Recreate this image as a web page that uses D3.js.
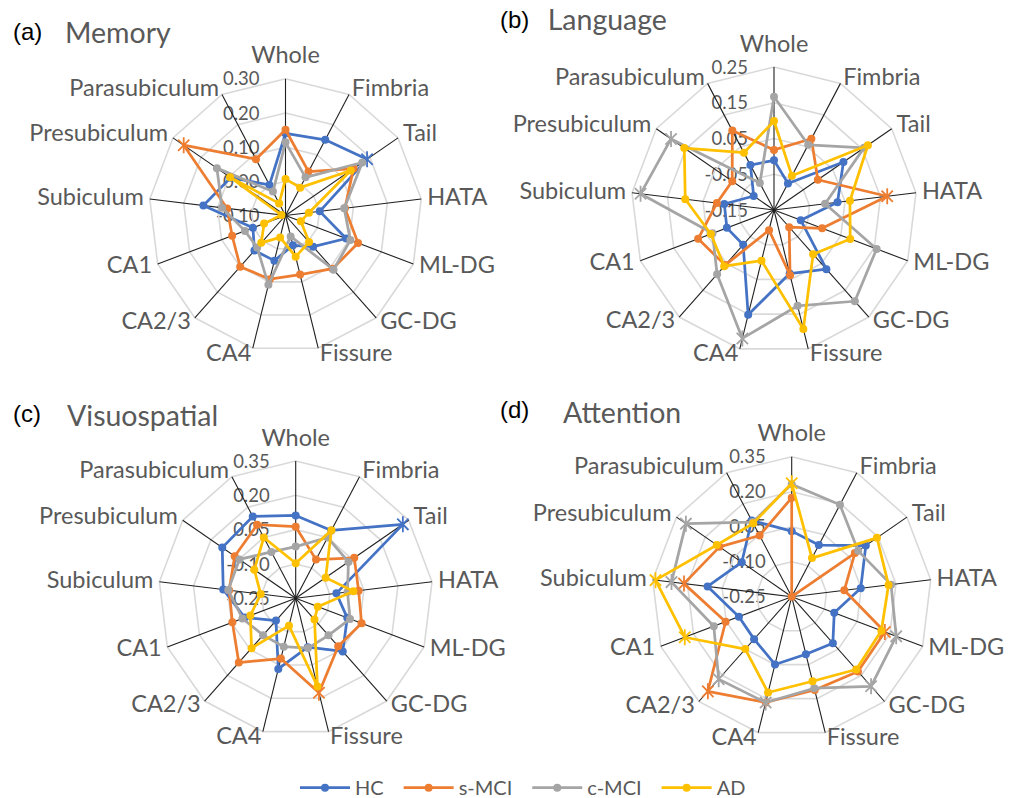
<!DOCTYPE html>
<html>
<head>
<meta charset="utf-8">
<script src="https://cdn.jsdelivr.net/npm/d3@7"></script>
<style>
  html, body { margin: 0; padding: 0; background: #ffffff; }
  svg { display: block; }
</style>
</head>
<body>
<svg id="chart" width="1010" height="798"></svg>
<script>
// Hippocampal subfields, clockwise from the top
const categories = ["Whole", "Fimbria", "Tail", "HATA", "ML-DG", "GC-DG", "Fissure",
                    "CA4", "CA2/3", "CA1", "Subiculum", "Presubiculum", "Parasubiculum"];
const groups = ["HC", "s-MCI", "c-MCI", "AD"];
const groupColors = ["#4472C4", "#ED7D31", "#A5A5A5", "#FFC000"];

// (a) Memory
const memoryTicks = [-0.10, 0.00, 0.10, 0.20, 0.30];
const memoryHC   = [0.140, 0.150, 0.190, 0.001, 0.090, 0.022, -0.010, 0.036, 0.037, 0.002, 0.142, 0.095, 0.001];
const memorySMCI = [0.151, 0.045, 0.142, 0.075, 0.127, 0.108, 0.078, 0.092, 0.100, 0.067, 0.072, 0.262, 0.086];
const memoryCMCI = [0.114, 0.026, 0.173, 0.073, 0.103, 0.112, -0.037, 0.109, 0.025, 0.027, 0.087, 0.144, -0.021];
const memoryAD   = [0.007, -0.008, 0.132, -0.031, -0.052, 0.004, 0.024, -0.034, 0.007, -0.033, -0.088, 0.097, -0.060];
const memoryStars = [["HC", "Tail"], ["s-MCI", "Presubiculum"]];

// (b) Language
const languageTicks = [-0.15, -0.05, 0.05, 0.15, 0.25];
const languageHC   = [-0.011, -0.066, 0.086, 0.029, -0.070, 0.071, 0.033, 0.152, -0.020, -0.009, -0.010, -0.081, -0.008];
const languageSMCI = [0.018, 0.075, -0.001, 0.169, -0.006, -0.086, 0.038, -0.092, 0.056, 0.077, 0.011, -0.008, 0.101];
const languageCMCI = [0.167, 0.056, 0.156, -0.006, 0.157, 0.191, 0.126, 0.220, 0.090, 0.034, 0.226, 0.200, -0.065];
const languageAD   = [0.099, -0.042, 0.169, 0.064, 0.078, 0.015, 0.193, -0.004, 0.060, 0.039, 0.100, 0.155, 0.031];
const languageStars = [["s-MCI", "HATA"], ["c-MCI", "CA4"], ["c-MCI", "Subiculum"], ["c-MCI", "Presubiculum"]];

// (c) Visuospatial
const visuoTicks = [-0.25, -0.10, 0.05, 0.20, 0.35];
const visuoHC   = [0.112, 0.085, 0.319, -0.071, -0.009, 0.060, -0.030, 0.068, -0.120, -0.012, 0.069, 0.140, 0.154];
const visuoSMCI = [0.063, -0.059, 0.061, 0.027, 0.058, 0.030, 0.175, 0.021, 0.125, 0.046, 0.043, 0.074, 0.113];
const visuoCMCI = [-0.024, 0.050, 0.030, -0.022, 0.004, -0.034, -0.026, -0.032, -0.035, -0.001, 0.047, 0.049, -0.021];
const visuoAD   = [-0.097, 0.086, -0.091, 0.004, -0.147, -0.126, 0.147, -0.127, 0.041, -0.038, -0.096, -0.030, 0.050];
const visuoStars = [["HC", "Tail"], ["s-MCI", "Fissure"]];

// (d) Attention
const attentionTicks = [-0.25, -0.10, 0.05, 0.20, 0.35];
const attentionHC   = [0.031, 0.000, 0.136, 0.048, -0.055, 0.016, 0.004, 0.049, -0.007, -0.008, 0.113, 0.010, 0.119];
const attentionSMCI = [0.174, -0.250, 0.079, -0.023, 0.177, 0.178, 0.162, 0.217, 0.292, 0.053, 0.215, 0.126, 0.046];
const attentionCMCI = [0.232, 0.195, 0.096, 0.179, 0.229, 0.263, 0.154, 0.217, 0.222, 0.107, 0.269, 0.301, 0.111];
const attentionAD   = [0.236, -0.063, 0.194, 0.168, 0.161, 0.167, 0.123, 0.173, 0.050, 0.240, 0.338, 0.140, 0.105];
const attentionStars = [["AD", "Whole"], ["AD", "Subiculum"], ["AD", "CA1"],
                        ["s-MCI", "ML-DG"], ["s-MCI", "CA2/3"], ["s-MCI", "Subiculum"],
                        ["c-MCI", "ML-DG"], ["c-MCI", "GC-DG"], ["c-MCI", "CA4"],
                        ["c-MCI", "CA2/3"], ["c-MCI", "Subiculum"], ["c-MCI", "Presubiculum"]];

// Panel layout (centre, outer radius, heading positions)
const panels = [
  { tag: "(a)", title: "Memory", ticks: memoryTicks,
    series: [memoryHC, memorySMCI, memoryCMCI, memoryAD], stars: memoryStars,
    cx: 285.5, cy: 215.5, r: 136.7, tagX: 13, tagY: 40, titleX: 65, titleY: 42.7 },
  { tag: "(b)", title: "Language", ticks: languageTicks,
    series: [languageHC, languageSMCI, languageCMCI, languageAD], stars: languageStars,
    cx: 774, cy: 210, r: 143, tagX: 500, tagY: 28.3, titleX: 547.7, titleY: 30 },
  { tag: "(c)", title: "Visuospatial", ticks: visuoTicks,
    series: [visuoHC, visuoSMCI, visuoCMCI, visuoAD], stars: visuoStars,
    cx: 295.7, cy: 598.3, r: 137.3, tagX: 13, tagY: 421.7, titleX: 67, titleY: 426 },
  { tag: "(d)", title: "Attention", ticks: attentionTicks,
    series: [attentionHC, attentionSMCI, attentionCMCI, attentionAD], stars: attentionStars,
    cx: 791.7, cy: 596.7, r: 140, tagX: 500, tagY: 418.3, titleX: 563, titleY: 422.7 }
];

const TEXT_GRAY = "#595959";
const LABEL_FONT = "Lato, 'Open Sans', sans-serif";
const svg = d3.select("#chart");

const n = categories.length;
const angleScale = d3.scaleLinear().domain([0, n]).range([0, 2 * Math.PI]);
const fmt = v => d3.format(".2f")(v).replace("\u2212", "-");

// six-ray asterisk marker
function starPath(s) {
  const d = s * Math.SQRT1_2;
  return `M${-d},${-d}L${d},${d}M${-d},${d}L${d},${-d}M0,${-s}L0,${s}`;
}

panels.forEach(p => {
  const g = svg.append("g").attr("transform", `translate(${p.cx},${p.cy})`);
  const rScale = d3.scaleLinear()
    .domain([p.ticks[0], p.ticks[p.ticks.length - 1]])
    .range([0, p.r])
    .clamp(true);

  // value labels along the first axis
  g.append("g").selectAll("text")
    .data(p.ticks)
    .join("text")
    .attr("x", -26)
    .attr("y", d => -rScale(d))
    .attr("dy", "0.36em")
    .attr("text-anchor", "end")
    .attr("font-family", LABEL_FONT)
    .attr("font-size", 18.5)
    .attr("fill", TEXT_GRAY)
    .text(fmt);

  // grid rings
  const ring = d3.lineRadial()
    .angle((d, i) => angleScale(i))
    .radius(d => d)
    .curve(d3.curveLinearClosed);
  g.append("g").selectAll("path")
    .data(p.ticks.slice(1))
    .join("path")
    .attr("d", t => ring(categories.map(() => rScale(t))))
    .attr("fill", "none")
    .attr("stroke", "#D9D9D9")
    .attr("stroke-width", 1.6);

  // spokes
  g.append("g").selectAll("line")
    .data(categories)
    .join("line")
    .attr("x1", 0).attr("y1", 0)
    .attr("x2", (d, i) => p.r * Math.sin(angleScale(i)))
    .attr("y2", (d, i) => -p.r * Math.cos(angleScale(i)))
    .attr("stroke", "#1f1f1f")
    .attr("stroke-width", 1.1);

  // category labels
  g.append("g").selectAll("text")
    .data(categories)
    .join("text")
    .each(function (d, i) {
      const a = angleScale(i);
      const ux = Math.sin(a), uy = -Math.cos(a);
      const t = d3.select(this);
      if (Math.abs(ux) < 0.05) {
        t.attr("x", 0).attr("y", -p.r - 15.5).attr("text-anchor", "middle");
      } else {
        t.attr("x", (p.r + 6) * ux)
         .attr("y", (p.r + 6) * uy - 1 + 7.8)
         .attr("text-anchor", ux > 0 ? "start" : "end");
      }
    })
    .attr("font-family", LABEL_FONT)
    .attr("font-size", 23.5)
    .attr("fill", TEXT_GRAY)
    .text(d => d);

  // group profiles
  const line = d3.lineRadial()
    .angle((d, i) => angleScale(i))
    .radius(d => rScale(d))
    .curve(d3.curveLinearClosed);

  p.series.forEach((vals, si) => {
    const color = groupColors[si];
    const sg = g.append("g");
    sg.append("path")
      .attr("d", line(vals))
      .attr("fill", "none")
      .attr("stroke", color)
      .attr("stroke-width", 2.75)
      .attr("stroke-linejoin", "round");

    const starred = new Set(p.stars.filter(s => s[0] === groups[si]).map(s => s[1]));
    const pts = vals.map((v, i) => ({
      x: rScale(v) * Math.sin(angleScale(i)),
      y: -rScale(v) * Math.cos(angleScale(i)),
      star: starred.has(categories[i])
    }));

    sg.selectAll("circle")
      .data(pts.filter(d => !d.star))
      .join("circle")
      .attr("cx", d => d.x).attr("cy", d => d.y)
      .attr("r", 4)
      .attr("fill", color);

    sg.selectAll("path.star")
      .data(pts.filter(d => d.star))
      .join("path")
      .attr("class", "star")
      .attr("transform", d => `translate(${d.x},${d.y})`)
      .attr("d", starPath(8))
      .attr("fill", "none")
      .attr("stroke", color)
      .attr("stroke-width", 1.8);
  });

  // headings
  svg.append("text")
    .attr("x", p.tagX).attr("y", p.tagY)
    .attr("font-family", "'Liberation Sans', Arial, sans-serif")
    .attr("font-size", 24)
    .attr("fill", "#000")
    .text(p.tag);
  svg.append("text")
    .attr("x", p.titleX).attr("y", p.titleY)
    .attr("font-family", LABEL_FONT)
    .attr("font-size", 28.5)
    .attr("fill", TEXT_GRAY)
    .text(p.title);
});

// legend
const legend = svg.append("g");
let lx = 300;
const ly = 787.7;
groups.forEach((name, i) => {
  const item = legend.append("g");
  item.append("line")
    .attr("x1", lx).attr("x2", lx + 50)
    .attr("y1", ly).attr("y2", ly)
    .attr("stroke", groupColors[i])
    .attr("stroke-width", 2.75);
  item.append("circle")
    .attr("cx", lx + 25).attr("cy", ly).attr("r", 4)
    .attr("fill", groupColors[i]);
  const txt = item.append("text")
    .attr("x", lx + 55).attr("y", ly + 6.8)
    .attr("font-family", LABEL_FONT)
    .attr("font-size", 20)
    .attr("fill", TEXT_GRAY)
    .text(name);
  lx = lx + 55 + txt.node().getComputedTextLength() + 20;
});
</script>
</body>
</html>
